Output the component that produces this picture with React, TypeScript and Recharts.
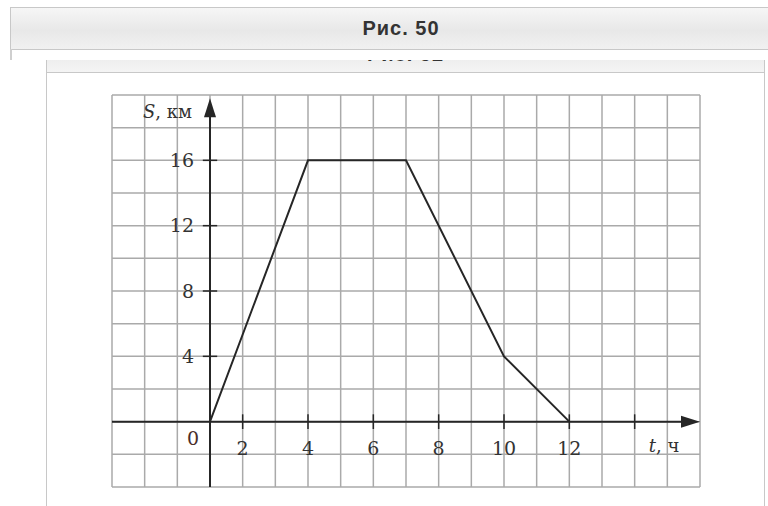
import React from "react";
import {
  LineChart,
  Line,
  XAxis,
  YAxis,
  CartesianGrid,
  ReferenceLine,
  ReferenceDot,
} from "recharts";

// S(t) graph
const HOURS = [1, 4, 7, 10, 12];
const DISTANCE_KM = [0, 16, 16, 4, 0];

const GRID_HOURS = [-2, -1, 0, 1, 2, 3, 4, 5, 6, 7, 8, 9, 10, 11, 12, 13, 14, 15, 16];
const GRID_KM = [-4, -2, 0, 2, 4, 6, 8, 10, 12, 14, 16, 18, 20];

const T_TICKS = [2, 4, 6, 8, 10, 12, 14];
const T_LABELS = ["2", "4", "6", "8", "10", "12", ""];
const S_TICKS = [4, 8, 12, 16];
const S_LABELS = ["4", "8", "12", "16"];

const INK = "#262626";
const SERIF = "'DejaVu Serif', 'Liberation Serif', serif";

const data = HOURS.map((t, i) => ({ t, s: DISTANCE_KM[i] }));

function ArrowAxis(props: any) {
  const { x1, y1, x2, y2 } = props;
  const dx = x2 - x1;
  const dy = y2 - y1;
  const len = Math.hypot(dx, dy) || 1;
  const ux = dx / len;
  const uy = dy / len;
  const head = 19;
  const half = 6;
  const bx = x2 - ux * head;
  const by = y2 - uy * head;
  const pts = `${x2},${y2} ${bx - uy * half},${by + ux * half} ${bx + uy * half},${by - ux * half}`;
  return (
    <g>
      <line x1={x1} y1={y1} x2={bx + ux * 2} y2={by + uy * 2} stroke={INK} strokeWidth={2} />
      <polygon points={pts} fill={INK} />
    </g>
  );
}

const axisTitle = (italic: string, rest: string, anchor: "start" | "middle" | "end") =>
  (props: any) => {
    const { viewBox } = props;
    return (
      <text
        x={viewBox.x}
        y={viewBox.y}
        dy="0.35em"
        textAnchor={anchor}
        fill="#333"
        fontSize={18}
        fontFamily={SERIF}
      >
        <tspan fontStyle="italic">{italic}</tspan>
        <tspan>{rest}</tspan>
      </text>
    );
  };

export default function App() {
  return (
    <div
      style={{
        position: "absolute",
        left: 0,
        top: 0,
        width: 768,
        height: 506,
        overflow: "hidden",
        background: "#fff",
      }}
    >
      {/* header bar */}
      <div
        style={{
          position: "absolute",
          left: 10,
          top: 7,
          width: 780,
          height: 41,
          border: "1.5px solid #c8c8c8",
          background: "linear-gradient(#f6f6f6, #e8e8e8 55%, #f1f1f1)",
          textAlign: "center",
          lineHeight: "41px",
          fontFamily: "'Liberation Sans', Arial, sans-serif",
          fontWeight: "bold",
          fontSize: 20,
          letterSpacing: 1,
          color: "#333",
        }}
      >
        Рис. 50
      </div>
      <div style={{ position: "absolute", left: 10, top: 49, width: 1.5, height: 11, background: "#cfcfcf" }} />

      {/* second panel, cut off at the top */}
      <div
        style={{
          position: "absolute",
          left: 46,
          top: 60,
          width: 717,
          height: 500,
          borderLeft: "1.5px solid #c8c8c8",
          borderRight: "1.5px solid #c8c8c8",
        }}
      >
        <div
          style={{
            position: "relative",
            height: 12,
            overflow: "hidden",
            background: "linear-gradient(#eeeeee, #f4f4f4)",
            borderBottom: "1.5px solid #c8c8c8",
          }}
        >
          <div
            style={{
              position: "absolute",
              left: 0,
              right: 0,
              top: -16,
              textAlign: "center",
              lineHeight: "20px",
              fontFamily: "'Liberation Sans', Arial, sans-serif",
              fontWeight: "bold",
              fontSize: 20,
              letterSpacing: 1,
              color: "#333",
            }}
          >
            Рис. 52
          </div>
        </div>
      </div>

      <div style={{ position: "absolute", left: 0, top: 0 }}>
        <LineChart
          width={768}
          height={506}
          data={data}
          margin={{ top: 95, right: 68, bottom: 19, left: 112 }}
        >
          <XAxis
            dataKey="t"
            type="number"
            domain={[-2, 16]}
            ticks={GRID_HOURS}
            interval={0}
            hide
          />
          <YAxis type="number" domain={[-4, 20]} ticks={GRID_KM} interval={0} hide />
          <CartesianGrid stroke="#aaaaaa" strokeWidth={1.5} />

          <ReferenceLine
            segment={[{ x: -2, y: 0 }, { x: 16, y: 0 }]}
            shape={ArrowAxis}
          />
          <ReferenceLine
            segment={[{ x: 1, y: -4 }, { x: 1, y: 19.8 }]}
            shape={ArrowAxis}
          />

          {T_TICKS.map((t) => (
            <ReferenceLine
              key={`tt${t}`}
              segment={[{ x: t, y: -0.45 }, { x: t, y: 0.45 }]}
              stroke={INK}
              strokeWidth={1.5}
            />
          ))}
          {S_TICKS.map((s) => (
            <ReferenceLine
              key={`st${s}`}
              segment={[{ x: 0.78, y: s }, { x: 1.22, y: s }]}
              stroke={INK}
              strokeWidth={1.5}
            />
          ))}

          {T_TICKS.map((t, i) => (
            <ReferenceDot
              key={`tl${t}`}
              x={t}
              y={-1.6}
              r={0}
              fill="none"
              stroke="none"
              label={{
                value: T_LABELS[i],
                position: "center",
                fill: "#333",
                fontSize: 19,
                fontFamily: SERIF,
              }}
            />
          ))}
          {S_TICKS.map((s, i) => (
            <ReferenceDot
              key={`sl${s}`}
              x={1}
              y={s}
              r={0}
              fill="none"
              stroke="none"
              label={{
                value: S_LABELS[i],
                position: "left",
                offset: 16,
                fill: "#333",
                fontSize: 19,
                fontFamily: SERIF,
              }}
            />
          ))}
          <ReferenceDot
            x={1}
            y={0}
            r={0}
            fill="none"
            stroke="none"
            label={{
              value: "0",
              position: "center",
              dx: -17,
              dy: 17,
              fill: "#4a2e2a",
              fontSize: 19,
              fontFamily: SERIF,
            }}
          />
          <ReferenceDot
            x={0.45}
            y={19}
            r={0}
            fill="none"
            stroke="none"
            label={axisTitle("S", ", км", "end")}
          />
          <ReferenceDot
            x={14.9}
            y={-1.5}
            r={0}
            fill="none"
            stroke="none"
            label={axisTitle("t", ", ч", "middle")}
          />

          <Line
            dataKey="s"
            stroke={INK}
            strokeWidth={2}
            dot={false}
            activeDot={false}
            isAnimationActive={false}
          />
        </LineChart>
      </div>
    </div>
  );
}
